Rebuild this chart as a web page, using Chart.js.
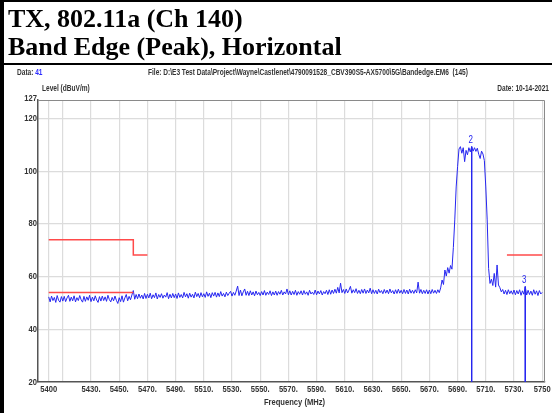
<!DOCTYPE html>
<html>
<head>
    <title>TX 802.11a Ch 140 Band Edge</title>
    <script src="https://cdn.jsdelivr.net/npm/chart.js"></script>
    <style>
        body {
            margin: 0;
            width: 552px;
            height: 413px;
            background: #fff;
            position: relative;
            overflow: hidden;
            font-family: 'Liberation Sans', Arial, sans-serif;
        }
        #chartBox {
            position: absolute;
            left: 0;
            top: 0;
            width: 552px;
            height: 413px;
        }
        .bar { position: absolute; background: #000; }
        .title {
            position: absolute;
            left: 8px;
            font-family: 'Liberation Serif', 'Times New Roman', serif;
            font-weight: bold;
            font-size: 26px;
            line-height: 28px;
            color: #000;
            white-space: nowrap;
        }
        .small {
            position: absolute;
            font-size: 9.5px;
            font-weight: bold;
            color: #333;
            white-space: nowrap;
            line-height: 10px;
            transform: scaleX(0.69);
            transform-origin: left top;
        }
        .small.right { transform-origin: right top; }
    </style>
</head>
<body>
    <div id="chartBox"><canvas id="bandEdgeChart" width="552" height="413"></canvas></div>

    <div class="bar" style="left:0;top:0;width:552px;height:2px;"></div>
    <div class="bar" style="left:0;top:0;width:4px;height:413px;"></div>
    <div class="bar" style="left:4px;top:63px;width:548px;height:2px;"></div>

    <div class="title" style="top:5px;">TX, 802.11a (Ch 140)</div>
    <div class="title" style="top:33px;">Band Edge (Peak), Horizontal</div>

    <div class="small" style="left:17px;top:67px;">Data: <span style="color:#2b2bff">41</span></div>
    <div class="small" style="left:148px;top:67px;">File: D:\E3 Test Data\Project\Wayne\Castlenet\4790091528_CBV390S5-AX5700\5G\Bandedge.EM6&nbsp;&nbsp;(145)</div>
    <div class="small" style="left:42px;top:83px;">Level (dBuV/m)</div>
    <div class="small right" style="right:3px;top:83px;">Date: 10-14-2021</div>

    <script>
        // trace: one reading per MHz from 5400 to 5750
        var traceStart = 5400;
        var traceLevels = [
            52.3, 50.4, 52.6, 50.9, 52.1, 50.2, 52.8, 51.0, 50.3, 52.4,
            50.7, 52.5, 50.5, 51.9, 52.9, 50.6, 52.2, 50.8, 52.7, 50.4,
            52.0, 50.9, 52.8, 51.2, 50.3, 52.5, 50.6, 52.3, 51.0, 52.9,
            50.5, 52.2, 50.8, 52.7, 51.1, 50.2, 52.4, 50.7, 52.6, 50.9,
            52.3, 50.6, 52.9, 51.3, 50.4, 52.1, 50.8, 52.6, 51.0, 49.8,
            52.0, 50.5, 52.7, 50.3, 51.9, 53.2, 50.8, 52.5, 51.2, 53.0,
            54.7, 51.4, 53.2, 51.6, 53.4, 51.8, 53.0, 51.5, 53.6, 51.7,
            53.3, 51.9, 53.7, 51.6, 53.1, 52.0, 53.8, 51.5, 53.2, 52.1,
            53.5, 51.8, 53.0, 52.2, 53.9, 51.6, 53.3, 51.9, 53.6, 52.0,
            53.4, 51.7, 53.8, 52.1, 53.2, 51.9, 54.0, 52.3, 53.5, 51.8,
            53.7, 52.2, 53.3, 51.9, 54.1, 52.4, 53.6, 52.0, 53.9, 52.3,
            53.5, 52.1, 54.2, 52.5, 53.7, 52.0, 53.9, 52.6, 54.0, 52.2,
            53.8, 52.4, 54.3, 52.6, 53.6, 52.3, 54.1, 52.8, 53.7, 54.4,
            52.6, 54.0, 52.9, 54.5, 56.4, 52.8, 54.9, 52.7, 54.2, 55.3,
            52.9, 54.4, 52.8, 54.6, 53.0, 54.2, 52.7, 54.5, 53.1, 54.0,
            52.8, 54.3, 53.0, 54.7, 52.9, 54.1, 53.2, 54.6, 52.8, 54.2,
            53.0, 54.5, 52.9, 54.3, 53.3, 54.8, 53.0, 54.2, 53.4, 55.3,
            53.1, 54.6, 53.0, 54.4, 53.2, 54.8, 52.9, 54.3, 53.3, 54.6,
            53.0, 54.7, 53.3, 54.2, 52.9, 54.8, 53.4, 54.1, 53.2, 54.9,
            53.1, 54.5, 53.4, 54.7, 53.0, 54.3, 53.5, 54.8, 53.2, 55.0,
            53.3, 54.9, 53.6, 55.2, 53.7, 55.9, 53.8, 57.5, 53.9, 55.1,
            53.6, 55.3, 53.8, 54.9, 56.3, 53.7, 55.0, 53.9, 55.4, 53.6,
            54.8, 53.5, 55.1, 53.7, 55.3, 53.6, 54.9, 53.8, 55.6, 53.5,
            55.0, 53.6, 54.8, 53.4, 55.2, 53.9, 54.7, 53.5, 55.1, 53.7,
            54.9, 53.5, 55.3, 53.8, 54.7, 53.4, 55.0, 53.6, 55.2, 53.7,
            54.8, 53.5, 55.1, 53.6, 54.9, 53.4, 55.2, 53.7, 54.8, 53.6,
            55.0, 53.8, 57.9, 53.7, 55.1, 53.5, 54.8, 53.6, 55.0, 53.4,
            54.9, 53.5, 55.1, 53.7, 54.8, 53.6, 55.0, 53.9, 55.7, 58.7,
            57.0, 62.5, 60.2, 63.4, 61.3, 64.2, 62.8, 71.0, 81.5, 94.0,
            101.7, 108.4, 109.3, 106.8, 108.9, 103.6, 107.9, 106.2, 108.9, 107.3,
            109.3, 107.6, 108.9, 107.5, 108.7, 106.4, 104.8, 107.6, 106.5, 104.0,
            94.0, 81.5, 63.1, 57.4, 59.0, 56.6, 61.2, 56.0, 64.4, 56.8,
            55.8, 54.2, 55.1, 53.4, 54.8, 53.2, 55.0, 53.5, 54.6, 53.3,
            54.9, 53.1, 54.7, 53.4, 55.0, 52.9, 54.6, 53.3, 56.2, 53.0,
            54.8, 53.2, 54.5, 52.9, 55.0, 53.3, 54.6, 52.8, 54.7, 53.4,
            54.0
        ];

        // limit lines (red)
        var limitAFreq = [5400, 5460, 5460, 5470];
        var limitALevel = [74, 74, 68.2, 68.2];
        var limitBFreq = [5400, 5460];
        var limitBLevel = [54, 54];
        var limitCFreq = [5725, 5750];
        var limitCLevel = [68.2, 68.2];

        // markers
        var markerNames = ['2', '3'];
        var markerFreq = [5700, 5738];
        var markerLevel = [109.3, 56.2];

        // axis ticks
        var xTicks = [5400, 5410, 5430, 5450, 5470, 5490, 5510, 5530, 5550, 5570, 5590, 5610, 5630, 5650, 5670, 5690, 5710, 5730, 5750];
        var xTickLabels = ['5400', '', '5430.', '5450.', '5470.', '5490.', '5510.', '5530.', '5550.', '5570.', '5590.', '5610.', '5630.', '5650.', '5670.', '5690.', '5710.', '5730.', '5750'];
        var yTicks = [20, 40, 60, 80, 100, 120, 127];
        var xTitle = 'Frequency (MHz)';

        var blue = '#2626f0';
        var red = '#ff4a4a';
        var narrowFont = 'bold 9.5px "Liberation Sans", Arial, sans-serif';

        function pairs(xs, ys) {
            return xs.map(function(x, i) { return { x: x, y: ys[i] }; });
        }

        var traceData = traceLevels.map(function(v, i) { return { x: traceStart + i, y: v }; });

        var datasets = [
            { data: pairs(limitAFreq, limitALevel), borderColor: red, borderWidth: 1.5 },
            { data: pairs(limitBFreq, limitBLevel), borderColor: red, borderWidth: 1.5 },
            { data: pairs(limitCFreq, limitCLevel), borderColor: red, borderWidth: 1.5 },
            { data: traceData, borderColor: blue, borderWidth: 1 }
        ];
        markerFreq.forEach(function(f, i) {
            datasets.push({ data: [{ x: f, y: markerLevel[i] }, { x: f, y: 20 }], borderColor: blue, borderWidth: 1 });
        });

        // narrow text (Arial Narrow look) drawn at positions taken from the scales
        function narrowText(c, txt, x, y, align) {
            c.save();
            c.translate(x, y);
            c.scale(0.8, 1);
            c.textAlign = align;
            c.fillText(txt, 0, 0);
            c.restore();
        }

        var frameAndLabels = {
            id: 'frameAndLabels',
            afterDraw: function(chart) {
                var c = chart.ctx, a = chart.chartArea;
                var xs = chart.scales.x, ys = chart.scales.y;
                c.save();
                c.strokeStyle = '#8a8a8a';
                c.lineWidth = 1;
                c.beginPath();
                c.moveTo(a.left, a.top + 0.5);
                c.lineTo(a.right - 0.5, a.top + 0.5);
                c.lineTo(a.right - 0.5, a.bottom);
                c.stroke();

                c.fillStyle = '#333';
                c.font = narrowFont;
                c.textBaseline = 'middle';
                xTicks.forEach(function(v, i) {
                    narrowText(c, xTickLabels[i], xs.getPixelForValue(v), a.bottom + 7.5, 'center');
                });
                yTicks.forEach(function(v) {
                    narrowText(c, String(v), a.left - 1, ys.getPixelForValue(v) - (v === 127 ? 2 : 0), 'right');
                });
                narrowText(c, xTitle, (a.left + a.right) / 2 + 3, a.bottom + 20, 'center');

                c.fillStyle = blue;
                c.font = '10px "Liberation Sans", sans-serif';
                c.textBaseline = 'bottom';
                markerNames.forEach(function(n, i) {
                    narrowText(c, n, xs.getPixelForValue(markerFreq[i]) - 1, ys.getPixelForValue(markerLevel[i]) - 1, 'center');
                });
                c.restore();
            }
        };

        var ctx = document.getElementById('bandEdgeChart').getContext('2d');
        var bandEdgeChart = new Chart(ctx, {
            type: 'line',
            data: { datasets: datasets },
            plugins: [frameAndLabels],
            options: {
                responsive: false,
                animation: false,
                layout: { padding: { top: 100, right: 7, left: 0, bottom: 0 } },
                elements: { point: { radius: 0 }, line: { tension: 0, fill: false } },
                plugins: { legend: { display: false }, tooltip: { enabled: false } },
                scales: {
                    x: {
                        type: 'linear',
                        min: 5392.4,
                        max: 5752,
                        afterFit: function(s) { s.height = 31; },
                        afterBuildTicks: function(s) { s.ticks = xTicks.map(function(v) { return { value: v }; }); },
                        ticks: { display: false },
                        grid: { color: '#dcdcdc', lineWidth: 1.2, drawTicks: false },
                        border: { color: '#555', width: 1.5 }
                    },
                    y: {
                        min: 20,
                        max: 127,
                        afterFit: function(s) { s.width = 38; },
                        afterBuildTicks: function(s) { s.ticks = yTicks.map(function(v) { return { value: v }; }); },
                        ticks: { display: false },
                        grid: {
                            color: function(c) { return (c.tick && (c.tick.value === 127 || c.tick.value === 20)) ? 'rgba(0,0,0,0)' : '#dcdcdc'; },
                            lineWidth: 1.2,
                            drawTicks: false
                        },
                        border: { color: '#555', width: 1.5 }
                    }
                }
            }
        });
    </script>
</body>
</html>
